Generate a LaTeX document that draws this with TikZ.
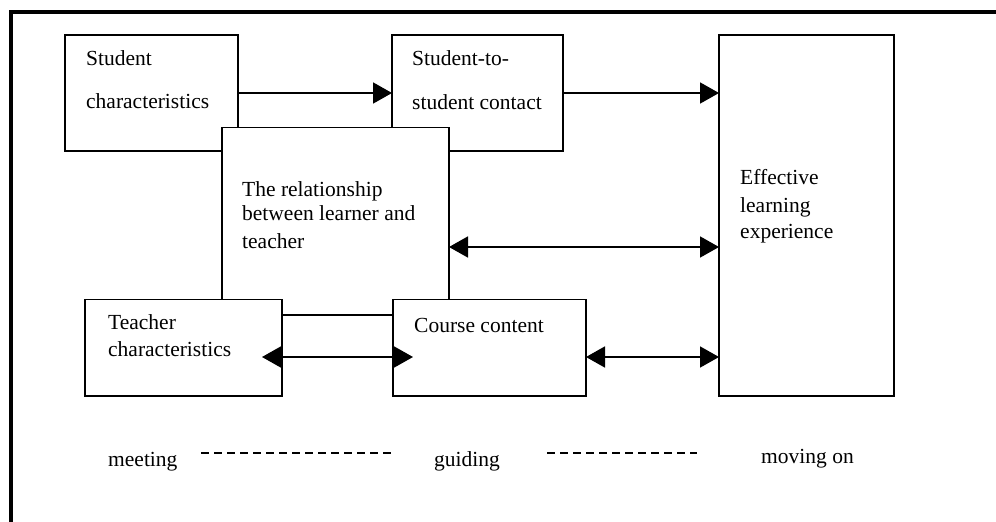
\documentclass[tikz,border=0pt]{standalone}
\usepackage{fontspec}
\setmainfont{Liberation Serif}
\usetikzlibrary{arrows.meta}
\tikzset{
  box/.style={draw, line width=1.8pt, fill=white, inner sep=0pt, outer sep=0pt, rectangle},
  lbl/.style={anchor=base west, inner sep=0pt, font=\fontsize{21.5}{26}\selectfont},
  conn/.style={line width=1.8pt, -{Triangle[length=19pt,width=21pt]}},
  dconn/.style={line width=1.8pt, {Triangle[length=19pt,width=21pt]}-{Triangle[length=19pt,width=21pt]}},
  stage/.style={line width=2pt, dash pattern=on 8pt off 5pt}
}
\begin{document}
\begin{tikzpicture}[x=1pt,y=-1pt]
\useasboundingbox (0,0) rectangle (996,522);
% outer frame (top and left edges)
\draw[line width=4pt] (996,11.5) -- (10.5,11.5) -- (10.5,522);

% boxes
\node[box, minimum width=173pt, minimum height=116pt] (sc) at (151.5,93) {};
\node[box, minimum width=171pt, minimum height=116pt] (s2s) at (477.5,93) {};
\node[box, minimum width=227pt, minimum height=187.5pt] (rel) at (335.5,221.25) {};
\node[box, minimum width=197pt, minimum height=96.5pt] (tc) at (183.5,347.75) {};
\node[box, minimum width=193pt, minimum height=96.5pt] (cc) at (489.5,347.75) {};
\node[box, minimum width=175pt, minimum height=361pt] (eff) at (806.5,215.5) {};

% texts
\node[lbl] (sc1) at (86,65) {Student};
\node[lbl] (sc2) at (86,108) {characteristics};
\node[lbl] (s2s1) at (412,65) {Student-to-};
\node[lbl] (s2s2) at (412,109) {student contact};
\node[lbl] (rel1) at (242,196.7) {The relationship};
\node[lbl] (rel2) at (242,220) {between learner and};
\node[lbl] (rel3) at (242,248.3) {teacher};
\node[lbl] (tc1) at (108,329.3) {Teacher};
\node[lbl] (tc2) at (108,356.7) {characteristics};
\node[lbl] (cc1) at (414,332.3) {Course content};
\node[lbl] (eff1) at (740,184.3) {Effective};
\node[lbl] (eff2) at (740,212.3) {learning};
\node[lbl] (eff3) at (740,238.3) {experience};

% connectors
\draw[conn] (sc.east) -- (s2s.west);
\draw[conn] (s2s.east) -- (s2s.east -| eff.west);
\draw[dconn] ([yshift=-25.75pt]rel.east) -- ([yshift=-25.75pt]rel.east -| eff.west);
\draw[dconn] ([yshift=-9.25pt]cc.east) -- ([yshift=-9.25pt]cc.east -| eff.west);
\draw[dconn, shorten <=-20pt, shorten >=-20pt] ([yshift=-9.25pt]tc.east) -- ([yshift=-9.25pt]tc.east -| cc.west);

% stages
\node[lbl] (meet) at (108,466.7) {meeting};
\node[lbl] (guide) at (434,466.7) {guiding};
\node[lbl] (move) at (761,463.3) {moving on};
\coordinate (d1a) at (201,453.3);
\coordinate (d1b) at (392,453.3);
\coordinate (d2a) at (547,453.3);
\coordinate (d2b) at (697,453.3);
\draw[stage] (d1a) -- (d1b);
\draw[stage] (d2a) -- (d2b);
\end{tikzpicture}
\end{document}
